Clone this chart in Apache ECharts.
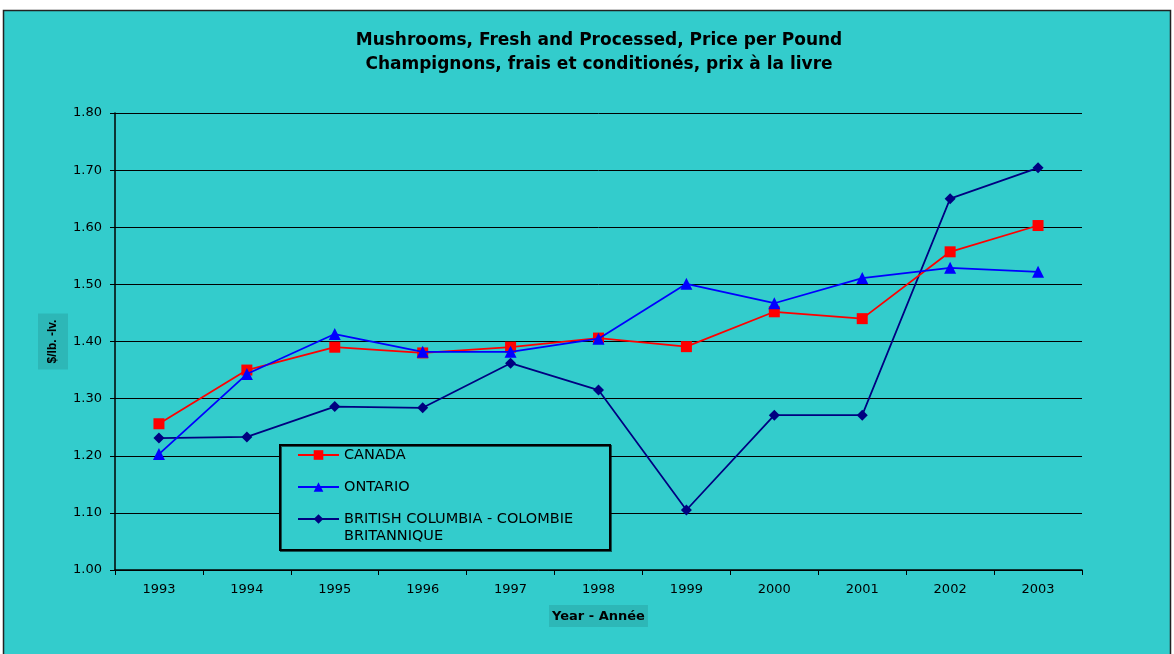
<!DOCTYPE html>
<html>
<head>
<meta charset="utf-8">
<script src="https://cdn.jsdelivr.net/npm/echarts@6/dist/echarts.min.js"></script>
<style>
html,body{margin:0;padding:0;background:#ffffff;}
#chart{width:1174px;height:654px;}
</style>
</head>
<body>
<div id="chart"></div>
<script>
const years = ['1993','1994','1995','1996','1997','1998','1999','2000','2001','2002','2003'];
const canada = [1.256, 1.350, 1.390, 1.380, 1.390, 1.406, 1.391, 1.452, 1.440, 1.557, 1.603];
const ontario = [1.203, 1.343, 1.413, 1.382, 1.382, 1.405, 1.501, 1.467, 1.511, 1.529, 1.522];
const bc = [1.231, 1.233, 1.286, 1.284, 1.362, 1.315, 1.105, 1.271, 1.271, 1.650, 1.704];
const yTicks = ['1.00','1.10','1.20','1.30','1.40','1.50','1.60','1.70','1.80'];
const seriesNames = ['CANADA', 'ONTARIO', 'BRITISH COLUMBIA - COLOMBIE\nBRITANNIQUE'];

const chart = echarts.init(document.getElementById('chart'));
const font = '"DejaVu Sans", Verdana, sans-serif';
const arial = 'Arial, "Liberation Sans", sans-serif';
const legendText = {fontFamily: font, fontSize: 14.5, color: '#000', lineHeight: 17};
chart.setOption({
  backgroundColor: '#ffffff',
  animation: false,
  graphic: [{
    type: 'rect', z: -10, silent: true,
    shape: {x: 3.5, y: 10.5, width: 1167, height: 660},
    style: {fill: '#33CCCC', stroke: '#222222', lineWidth: 1.5}
  }, {
    type: 'rect', z: 10, silent: true,
    shape: {x: 280, y: 445, width: 330, height: 105},
    style: {fill: '#33CCCC', stroke: '#000', lineWidth: 2,
      shadowColor: 'rgba(0,0,0,0.6)', shadowOffsetX: 1, shadowOffsetY: 1}
  }],
  title: {
    text: 'Mushrooms, Fresh and Processed, Price per Pound\nChampignons, frais et conditionés, prix à la livre',
    left: 594, top: 24, textAlign: 'center',
    textStyle: {fontFamily: font, fontSize: 17, fontWeight: 'bold', color: '#000', lineHeight: 24}
  },
  grid: {left: 115, right: 92, top: 113, bottom: 84, containLabel: false},
  legend: [{
    orient: 'vertical', left: 297, top: 446.5, padding: 0, z: 20,
    itemWidth: 41, itemHeight: 12, itemGap: 15,
    textStyle: legendText,
    data: [seriesNames[0], seriesNames[1]]
  }, {
    orient: 'vertical', left: 297, top: 493.5, padding: 0, z: 20,
    itemWidth: 41, itemHeight: 12,
    textStyle: legendText,
    formatter: name => '\n' + name,
    data: [seriesNames[2]]
  }],
  xAxis: {
    type: 'category', data: years, boundaryGap: true,
    name: 'Year - Année', nameLocation: 'middle', nameGap: 35,
    nameTextStyle: {fontFamily: font, fontSize: 13, fontWeight: 'bold', color: '#000',
      backgroundColor: '#2DB7B7', padding: [5, 3, 4, 3]},
    axisLine: {lineStyle: {color: '#000', width: 1.5}},
    axisTick: {show: true, length: 5, inside: false, lineStyle: {color: '#000'}},
    axisLabel: {fontFamily: font, fontSize: 13, color: '#000', margin: 13},
    splitLine: {show: false}
  },
  yAxis: {
    type: 'value', min: 1.0, max: 1.8, interval: 0.1,
    name: '$/lb. -lv.', nameLocation: 'middle', nameGap: 47, nameRotate: 90,
    nameMoveOverlap: false,
    nameTextStyle: {fontFamily: arial, fontSize: 12, fontWeight: 'bold', color: '#000',
      backgroundColor: '#2DB7B7', padding: [9, 6, 9, 6]},
    axisLine: {show: true, lineStyle: {color: '#000', width: 1.5}},
    axisTick: {show: true, length: 5, lineStyle: {color: '#000'}},
    axisLabel: {fontFamily: font, fontSize: 13, color: '#000', margin: 13,
      formatter: v => yTicks[Math.round((v - 1.0) * 10)] || v.toFixed(2)},
    splitLine: {show: true, lineStyle: {color: '#000', width: 1}}
  },
  series: [
    {name: seriesNames[0], type: 'line', data: canada, symbol: 'rect', symbolSize: 11,
     lineStyle: {color: '#FF0000', width: 1.75}, itemStyle: {color: '#FF0000'}, z: 3},
    {name: seriesNames[1], type: 'line', data: ontario, symbol: 'triangle', symbolSize: 12,
     lineStyle: {color: '#0000FF', width: 1.75}, itemStyle: {color: '#0000FF'}, z: 4},
    {name: seriesNames[2], type: 'line', data: bc, symbol: 'diamond', symbolSize: 11,
     lineStyle: {color: '#000080', width: 1.75}, itemStyle: {color: '#000080'}, z: 2}
  ]
});
</script>
</body>
</html>
